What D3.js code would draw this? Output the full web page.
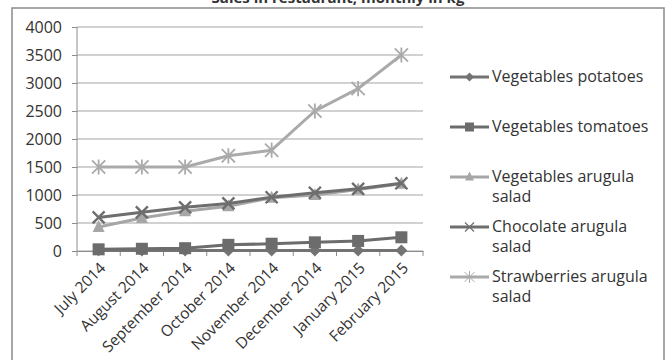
<!DOCTYPE html>
<html><head><meta charset="utf-8">
<script src="https://cdn.jsdelivr.net/npm/d3@7"></script>
<style>body{margin:0;background:#fff}svg{display:block}</style>
</head><body>
<svg id="c" width="667" height="360"></svg>
<script>
const categories = ["July 2014","August 2014","September 2014","October 2014","November 2014","December 2014","January 2015","February 2015"];
const potatoes = [15, 10, 10, 10, 10, 10, 10, 10];
const tomatoes = [30, 40, 50, 110, 130, 155, 180, 245];
const vegArugula = [430, 590, 710, 800, 950, 1000, 1100, 1200];
const chocArugula = [600, 690, 780, 850, 960, 1040, 1110, 1210];
const strawArugula = [1500, 1500, 1500, 1700, 1800, 2500, 2900, 3500];
const yTicks = [0, 500, 1000, 1500, 2000, 2500, 3000, 3500, 4000];
const seriesNames = [["Vegetables potatoes"],["Vegetables tomatoes"],["Vegetables arugula","salad"],["Chocolate arugula","salad"],["Strawberries arugula","salad"]];

const series = [
  {name: seriesNames[0], values: potatoes, color: "#737373", marker: "diamond"},
  {name: seriesNames[1], values: tomatoes, color: "#6c6c6c", marker: "square"},
  {name: seriesNames[2], values: vegArugula, color: "#a6a6a6", marker: "triangle"},
  {name: seriesNames[3], values: chocArugula, color: "#6e6e6e", marker: "x"},
  {name: seriesNames[4], values: strawArugula, color: "#aaaaaa", marker: "star"}
];

const svg = d3.select("#c");
const font = "'Open Sans', Lato, sans-serif";

// outer frame
svg.append("rect").attr("x",12).attr("y",8).attr("width",652).attr("height",360)
  .attr("fill","none").attr("stroke","#8a8a8a").attr("stroke-width",1.5);

// partially visible title
svg.append("text").attr("x",338).attr("y",3).attr("text-anchor","middle")
  .attr("font-family",font).attr("font-size",15).attr("font-weight","bold").attr("fill","#333")
  .text("Sales in restaurant, monthly in kg");

const x = d3.scaleBand().domain(categories).range([77, 423]);
const y = d3.scaleLinear().domain([0, 4000]).range([251, 27]);

// gridlines
svg.append("g").selectAll("line").data(yTicks).join("line")
  .attr("x1",77).attr("x2",423).attr("y1",d=>y(d)).attr("y2",d=>y(d))
  .attr("stroke","#a3a3a3").attr("stroke-width",1);

// y axis
const yAx = svg.append("g").attr("transform","translate(77,0)")
  .call(d3.axisLeft(y).tickValues(yTicks).tickFormat(d3.format("d")).tickSize(5).tickPadding(10));
yAx.select(".domain").attr("stroke","#8c8c8c").attr("d","M0,27V251");
yAx.selectAll(".tick line").attr("stroke","#8c8c8c");
yAx.selectAll("text").attr("font-family",font).attr("font-size",16).attr("fill","#333");

// x axis
const xAx = svg.append("g").attr("transform","translate(0,251)")
  .call(d3.axisBottom(x).tickSize(0).tickPadding(0));
xAx.select(".domain").attr("stroke","#8c8c8c");
xAx.selectAll(".tick text").attr("font-family",font).attr("font-size",15.5).attr("fill","#333")
  .attr("text-anchor","end").attr("dy",0)
  .attr("transform","translate(8,18) rotate(-45)");
// tick marks between categories
const bounds = categories.map(c => x(c)).concat([x.range()[1]]);
svg.append("g").selectAll("line").data(bounds).join("line")
  .attr("x1",d=>d).attr("x2",d=>d).attr("y1",251).attr("y2",256)
  .attr("stroke","#8c8c8c");

const cx = c => x(c) + x.bandwidth()/2;
const line = d3.line().x((d,i)=>cx(categories[i])).y(d=>y(d));

function drawMarker(g, type, color, px, py, k, sw) {
  const r = 6*k;
  if (type === "diamond") {
    g.append("path").attr("d",`M${px},${py-r}L${px+r},${py}L${px},${py+r}L${px-r},${py}Z`).attr("fill",color);
  } else if (type === "square") {
    g.append("rect").attr("x",px-r).attr("y",py-r).attr("width",2*r).attr("height",2*r).attr("fill",color);
  } else if (type === "triangle") {
    g.append("path").attr("d",`M${px},${py-r-1}L${px+r},${py+r-1}L${px-r},${py+r-1}Z`).attr("fill",color);
  } else if (type === "x") {
    g.append("path").attr("d",`M${px-r},${py-r}L${px+r},${py+r}M${px-r},${py+r}L${px+r},${py-r}`)
      .attr("stroke",color).attr("stroke-width",sw||2.4);
  } else if (type === "star") {
    const q = r*1.1;
    g.append("path").attr("d",`M${px-q},${py-q}L${px+q},${py+q}M${px-q},${py+q}L${px+q},${py-q}M${px},${py-q-1}L${px},${py+q+1}`)
      .attr("stroke",color).attr("stroke-width",sw||1.8);
  }
}

series.forEach(s => {
  const g = svg.append("g");
  g.append("path").datum(s.values).attr("d",line).attr("fill","none")
    .attr("stroke",s.color).attr("stroke-width",3).attr("stroke-linejoin","round");
  s.values.forEach((v,i) => drawMarker(g, s.marker, s.color, cx(categories[i]), y(v), 1));
});

// legend
const legY = [77, 127, 177, 227, 277];
series.forEach((s,i) => {
  const g = svg.append("g");
  const ly = legY[i];
  g.append("line").attr("x1",450).attr("x2",489).attr("y1",ly).attr("y2",ly)
    .attr("stroke",s.color).attr("stroke-width",3);
  drawMarker(g, s.marker, s.color, 469.5, ly, 0.75, s.marker==="star"?1:1.2);
  const t = g.append("text").attr("x",492).attr("y",ly+5)
    .attr("font-family",font).attr("font-size",16).attr("fill","#333");
  s.name.forEach((ln,j) => t.append("tspan").attr("x",492).attr("dy", j===0?0:20).text(ln));
});
</script>
</body></html>
